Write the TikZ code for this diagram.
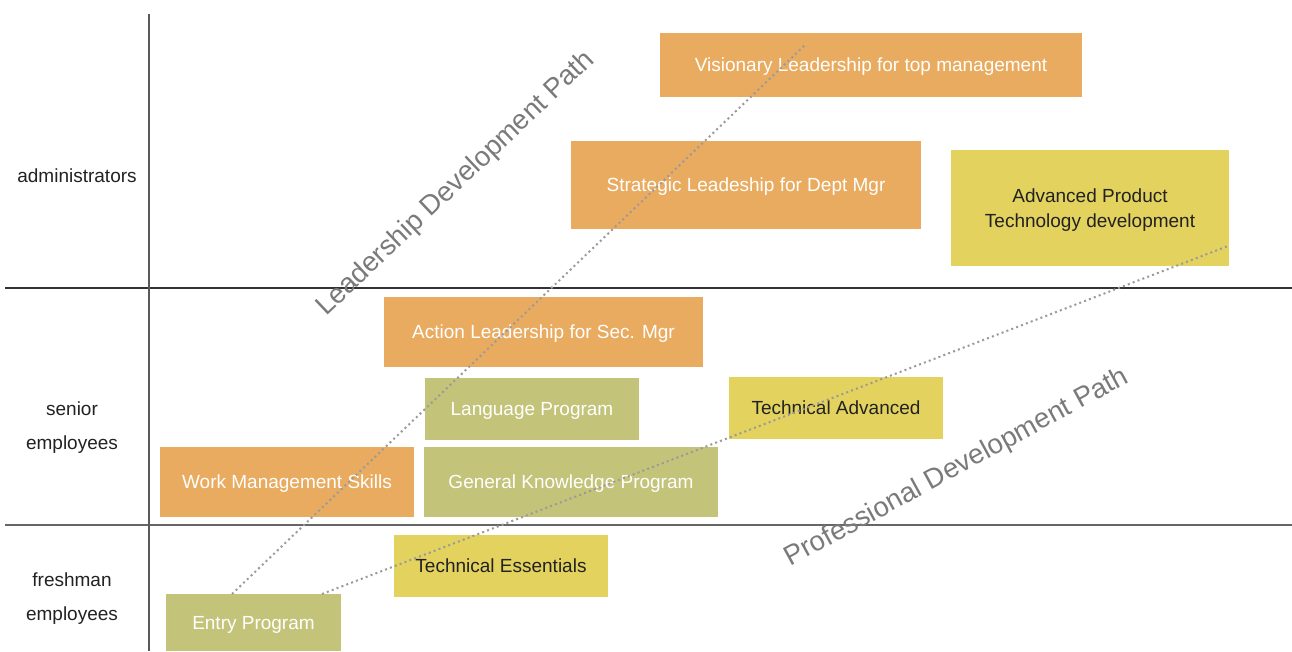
\documentclass[tikz,border=0pt]{standalone}
\usepackage{fontspec}
\setmainfont{Liberation Sans}
\definecolor{orangebox}{HTML}{E9AB5F}
\definecolor{olivebox}{HTML}{C3C379}
\definecolor{yellowbox}{HTML}{E3D35E}
\definecolor{darktext}{HTML}{222222}
\definecolor{pathgray}{HTML}{7A7A7A}
\definecolor{dotgray}{HTML}{9A9A9A}
\begin{document}
\begin{tikzpicture}[x=1pt,y=-1pt,
  boxbase/.style={inner sep=0pt, outer sep=0pt, align=center, text depth=0pt, font=\fontsize{19}{25}\selectfont},
  orangestep/.style={boxbase, fill=orangebox, text=white},
  olivestep/.style={boxbase, fill=olivebox, text=white},
  yellowstep/.style={boxbase, fill=yellowbox, text=darktext},
  rowlabel/.style={align=center, text=darktext, font=\fontsize{19}{34}\selectfont},
  pathlabel/.style={text=pathgray, font=\fontsize{27.6}{30}\selectfont},
  pathline/.style={draw=dotgray, line width=2pt, dash pattern=on 2pt off 3.2pt}]
\useasboundingbox (0,0) rectangle (1292,651);
\fill[white] (0,0) rectangle (1292,651);
% axes
\draw[draw=black!80, line width=1.5pt] (5,288) -- (1292,288);
\draw[draw=black!60, line width=1.8pt] (5,525) -- (1292,525);
\draw[draw=black!65, line width=2pt] (149,14) -- (149,651);
% row labels
\node[rowlabel] (ladmin) at (77,176) {administrators};
\node[rowlabel] (lsenior) at (72,428) {senior\\employees};
\node[rowlabel] (lfresh) at (72,599) {freshman\\employees};
% boxes
\node[orangestep, minimum width=422pt, minimum height=64pt] (vis) at (871,65) {Visionary Leadership for top management};
\node[orangestep, minimum width=350pt, minimum height=88pt] (strat) at (746,185) {Strategic Leadeship for Dept Mgr};
\node[yellowstep, minimum width=278pt, minimum height=116pt] (adv) at (1090,208) {Advanced Product\\Technology development};
\node[orangestep, minimum width=319pt, minimum height=70pt] (act) at (543.5,332) {Action Leadership for Sec. Mgr};
\node[olivestep, minimum width=214pt, minimum height=62pt] (lang) at (532,409) {Language Program};
\node[yellowstep, minimum width=214pt, minimum height=62pt] (tadv) at (836,408) {Technical Advanced};
\node[orangestep, minimum width=254pt, minimum height=70pt] (work) at (287,482) {Work Management Skills};
\node[olivestep, minimum width=294pt, minimum height=70pt] (gen) at (571,482) {General Knowledge Program};
\node[yellowstep, minimum width=214pt, minimum height=62pt] (tess) at (501,566) {Technical Essentials};
\node[olivestep, minimum width=175pt, minimum height=57pt] (entry) at (253.5,622.5) {Entry Program};
% path lines
\coordinate (lstart) at (232,594);
\coordinate (lend) at (806,44);
\coordinate (pstart) at (322,594);
\coordinate (pend) at (1228,246);
\draw[pathline] (lstart) -- (lend);
\draw[pathline] (pstart) -- (pend);
% path labels
\node[pathlabel, rotate=43.5] (lpath) at (456,184) {Leadership Development Path};
\node[pathlabel, rotate=28.6] (ppath) at (957,468) {Professional Development Path};
\end{tikzpicture}
\end{document}
